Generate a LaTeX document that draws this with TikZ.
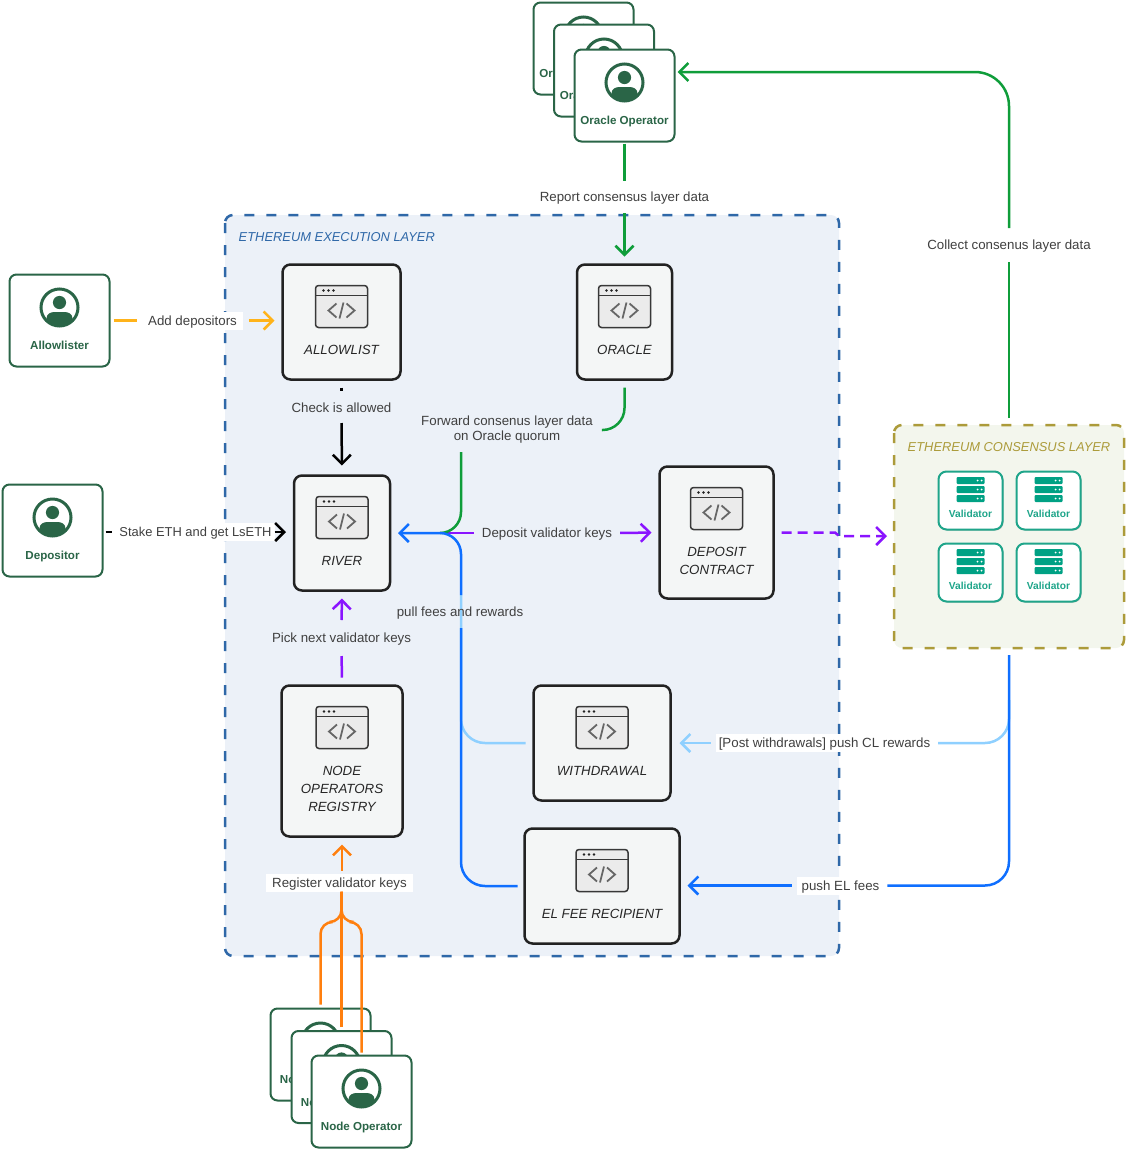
\documentclass[tikz,border=0pt]{standalone}
\usepackage{fontspec}
\setmainfont{Liberation Sans}
\usetikzlibrary{calc}
\usetikzlibrary{arrows.meta}
\usetikzlibrary{positioning}
\usetikzlibrary{shadows}
\definecolor{ExecBlue}{HTML}{2F68A8}
\definecolor{ExecFill}{HTML}{ECF1F8}
\definecolor{ConsGold}{HTML}{AC9B3A}
\definecolor{ConsFill}{HTML}{F3F6ED}
\definecolor{BoxFill}{HTML}{F4F6F6}
\definecolor{BoxLine}{HTML}{222222}
\definecolor{IconFill}{HTML}{EBEBEB}
\definecolor{OpGreen}{HTML}{2A6547}
\definecolor{ValTeal}{HTML}{1FA58A}
\definecolor{ValBar}{HTML}{00A184}
\definecolor{LabelGray}{HTML}{404040}
\definecolor{LinkYellow}{HTML}{FFB31A}
\definecolor{LinkBlue}{HTML}{0F6FFF}
\definecolor{LinkSky}{HTML}{8FD0FF}
\definecolor{LinkGreen}{HTML}{0F9D3A}
\definecolor{LinkPurple}{HTML}{8A14FF}
\definecolor{LinkOrange}{HTML}{FF7F0E}
\tikzset{
  layer/.style={rounded corners=8pt,line width=2.5pt,dash pattern=on 10pt off 12pt},
  layertitle/.style={font=\fontsize{12.9}{16}\itshape},
  contract/.style={draw=BoxLine,fill=BoxFill,line width=2.5pt,rounded corners=8pt,outer sep=0pt},
  contractname/.style={font=\fontsize{13.3}{18}\itshape,text=black!85,align=center,anchor=north,inner sep=0pt},
  operator/.style={draw=OpGreen,fill=white,line width=2pt,rounded corners=7pt,outer sep=0pt,
    minimum width=100pt,minimum height=92pt},
  opname/.style={font=\fontsize{11.6}{14}\bfseries,text=OpGreen,inner sep=0pt,text height=9pt,text depth=2pt},
  validator/.style={draw=ValTeal,fill=white,line width=2pt,rounded corners=8pt,outer sep=0pt,
    minimum width=64pt,minimum height=58pt,
    drop shadow={shadow xshift=1pt,shadow yshift=-1pt,opacity=.45,fill=black!50}},
  valname/.style={font=\fontsize{10.2}{13}\bfseries,text=ValTeal,inner sep=0pt},
  linklabel/.style={font=\fontsize{13.3}{15}\selectfont,text=LabelGray,align=center,
    fill=ExecFill,inner xsep=3pt,inner ysep=3.5pt,outer sep=0pt,text height=10pt,text depth=1pt},
  whitelabel/.style={linklabel,fill=white},
  link/.style={line width=2.5pt,rounded corners=24pt},
  tip/.style={-{Straight Barb[length=9pt,width=18pt,line width=2.5pt]}},
  codeicon/.pic={
    \draw[draw=BoxLine!90,fill=IconFill,line width=1.5pt,rounded corners=3pt] (-26,-21) rectangle (26,21);
    \draw[BoxLine!90,line width=1.3pt] (-26,-11) -- (26,-11);
    \foreach \d in {-18,-13,-8}{%
      \fill[BoxLine] (\d,-16) circle (1.3);
    }
    \draw[black!60,line width=1.8pt] (-5,-3) -- (-13,4) -- (-5,11);
    \draw[black!60,line width=1.8pt] (5,-3) -- (13,4) -- (5,11);
    \draw[black!60,line width=1.8pt] (2,-4) -- (-2,12);
  },
  personicon/.pic={
    \begin{scope}
      \clip (0,0) circle (18.5);
      \fill[OpGreen] (-13,20) -- (-13,11) .. controls (-13,6.5) and (-9,4.5) .. (-5,4.5) -- (5,4.5)
        .. controls (9,4.5) and (13,6.5) .. (13,11) -- (13,20) -- cycle;
    \end{scope}
    \draw[OpGreen,line width=3pt] (0,0) circle (18.5);
    \fill[OpGreen] (0,-5) circle (6.6);
  },
  servericon/.pic={
    \foreach \b in {-9,0,9}{%
      \fill[ValBar,rounded corners=1pt] (-14,\b-3.5) rectangle (14,\b+3.5);
      \fill[white] (7,\b) circle (1) (11,\b) circle (1);
    }
  }
}

\begin{document}
\begin{tikzpicture}[x=1pt,y=-1pt]
  \useasboundingbox (0,0) rectangle (1129,1152);

  % layers
  \draw[layer,draw=ExecBlue,fill=ExecFill] (225,215) rectangle (839,956);
  \draw[layer,draw=ConsGold,fill=ConsFill] (894,425) rectangle (1124,648);
  \node[layertitle,text=ExecBlue,anchor=west,inner sep=0pt] (execname) at (238.5,237) {ETHEREUM EXECUTION LAYER};
  \node[layertitle,text=ConsGold,inner sep=0pt] (consname) at (1009,447) {ETHEREUM CONSENSUS LAYER};
  \coordinate (consensusnorth) at (1009,425);
  \coordinate (consensussouth) at (1009,648);
  \coordinate (consensuswest) at (894,536);

  % contracts
  \foreach \nm/\x/\y/\w/\h/\txt in {%
    allowlist/341.5/322/118/115/ALLOWLIST,
    oracle/624.5/322/95/115/ORACLE,
    river/342/533/96/115/RIVER,
    deposit/716.5/532.5/114/132/{DEPOSIT\\CONTRACT},
    registry/342/761/121/151/{NODE\\OPERATORS\\REGISTRY},
    withdrawal/602/743/137/115/WITHDRAWAL,
    elfee/602/886/155/115/EL FEE RECIPIENT}{%
    \node[contract,minimum width=\w pt,minimum height=\h pt] (\nm) at (\x,\y) {};
    \pic at ($(\nm.north)+(0,42)$) {codeicon};
    \node[contractname] (\nm-name) at ($(\nm.north)+(0,80.5)$) {\txt};
  }

  % operators
  \foreach \nm/\x/\y in {allowlister/59.5/320.5,depositor/52.5/530.5}{%
    \node[operator] (\nm) at (\x,\y) {};
    \pic at ($(\nm.north)+(0,33)$) {personicon};
  }
  \node[opname] (allowlister-name) at ($(allowlister.north)+(0,71.5)$) {Allowlister};
  \node[opname] (depositor-name) at ($(depositor.north)+(0,71.5)$) {Depositor};

  \foreach \nm/\x/\y in {oracleopa/583.5/48.5,oracleopb/604/70.5,oracleopc/624.5/95.5}{%
    \node[operator] (\nm) at (\x,\y) {};
    \pic at ($(\nm.north)+(0,33)$) {personicon};
    \node[opname] (\nm-name) at ($(\nm.north)+(0,71.5)$) {Oracle Operator};
  }
  \foreach \nm/\x/\y in {nodeopa/320.5/1054.5,nodeopb/341.5/1077,nodeopc/361.5/1101.5}{%
    \node[operator] (\nm) at (\x,\y) {};
    \pic at ($(\nm.north)+(0,33)$) {personicon};
    \node[opname] (\nm-name) at ($(\nm.north)+(0,71.5)$) {Node Operator};
  }

  % validators
  \foreach \nm/\x/\y in {vala/970.5/500.5,valb/1048.5/500.5,valc/970.5/572.5,vald/1048.5/572.5}{%
    \node[validator] (\nm) at (\x,\y) {};
    \pic at ($(\nm.north)+(0,18)$) {servericon};
    \node[valname] (\nm-name) at ($(\nm.north)+(0,42.5)$) {Validator};
  }

  % labels
  \node[whitelabel,inner xsep=6pt] (addlabel) at (192.5,320.5) {Add depositors};
  \node[whitelabel,font=\fontsize{12.9}{15}\selectfont] (stakelabel) at (195.5,532) {Stake ETH and get LsETH};
  \node[whitelabel] (reportlabel) at (624.5,197) {Report consensus layer data};
  \node[whitelabel] (collectlabel) at (1009,245) {Collect consenus layer data};
  \node[linklabel,text height=,text depth=] (forwardlabel) at (507,430) {Forward consenus layer data\\on Oracle quorum};
  \node[linklabel] (checklabel) at (341.5,408) {Check is allowed};
  \node[linklabel] (depositlabel) at (547,533) {Deposit validator keys};
  \node[linklabel] (picklabel) at (341.5,638) {Pick next validator keys};
  \node[whitelabel] (postlabel) at (824.5,743) {[Post withdrawals] push CL rewards};
  \node[whitelabel,inner xsep=5pt] (pushlabel) at (840.5,885.5) {push EL fees};
  \node[whitelabel,inner xsep=6pt] (registerlabel) at (339.5,882.5) {Register validator keys};

  \coordinate (riverjoin) at (461,533);
  \coordinate (purplestart) at (440,533);
  \coordinate (forwardout) at (461,444);
  \coordinate (pullbelow) at (461,628);
  \coordinate (pullabove) at (461,595);
  \coordinate (collectin) at ([shift={(3,-23.5)}]oracleopc.east);
  \coordinate (orangejoin) at (341.5,922);
  \coordinate (skystart) at (1009,700);

  % yellow, black, purple
  \draw[link,LinkYellow,shorten <=4pt,shorten >=5pt] (allowlister.east) -- (addlabel.west);
  \draw[link,LinkYellow,tip,shorten <=6pt,shorten >=8pt] (addlabel.east) -- (allowlist.west |- addlabel.east);
  \draw[link,black,shorten <=3pt,shorten >=4pt] (depositor.east |- stakelabel.west) -- (stakelabel.west);
  \draw[link,black,tip,shorten >=8pt] (stakelabel.east) -- (river.west |- stakelabel.east);
  \draw[link,black,shorten <=8pt,shorten >=8pt] (allowlist.south) -- (checklabel.north);
  \draw[link,black,tip,shorten <=6pt,shorten >=10pt] (checklabel.south) -- (river.north);
  \draw[link,LinkPurple,shorten <=8pt,shorten >=9pt] (registry.north) -- (picklabel.south);
  \draw[link,LinkPurple,tip,shorten <=9pt,shorten >=8pt] (picklabel.north) -- (river.south);
  \draw[link,LinkPurple,shorten >=5pt] (purplestart) -- (depositlabel.west);
  \draw[link,LinkPurple,tip,shorten <=5pt,shorten >=8pt] (depositlabel.east) -- (deposit.west);
  \draw[line width=2.5pt,LinkPurple,dash pattern=on 10pt off 6pt,tip,shorten <=8pt,shorten >=7pt]
    (deposit.east) -- (835,532.5) -- (839,536) -- (consensuswest);

  % green
  \draw[link,LinkGreen,shorten <=2pt,shorten >=7pt] (oracleopc.south) -- (reportlabel.north);
  \draw[link,LinkGreen,tip,shorten <=7pt,shorten >=8pt] (reportlabel.south) -- (oracle.north);
  \draw[link,LinkGreen,shorten <=7pt,shorten >=8pt] (consensusnorth) -- (collectlabel.south);
  \draw[link,rounded corners=34pt,LinkGreen,tip,shorten <=8pt] (collectlabel.north) -- (collectlabel.north |- collectin) -- (collectin);
  \draw[link,rounded corners=22pt,LinkGreen,shorten <=8pt,shorten >=6pt] (oracle.south) -- (oracle.south |- forwardlabel.east) -- (forwardlabel.east);
  \draw[link,rounded corners=21pt,LinkGreen,shorten <=8pt] (forwardout) -- (riverjoin) -- (purplestart);

  % withdrawal, then fees on top
  \draw[link,LinkSky,shorten <=8pt] (withdrawal.west) -- (riverjoin |- withdrawal.west) -- (pullabove);
  \draw[link,LinkSky,tip,shorten <=5pt,shorten >=9pt] (postlabel.west) -- (withdrawal.east);
  \draw[link,LinkSky,shorten >=5pt] (skystart) -- (skystart |- postlabel.east) -- (postlabel.east);
  \draw[link,LinkBlue,shorten <=7pt] (elfee.west) -- (riverjoin |- elfee.west) -- (pullbelow);
  \draw[link,rounded corners=21pt,LinkBlue,tip,shorten >=8pt] (pullabove) -- (riverjoin) -- (river.east);
  \draw[link,LinkBlue,shorten <=7pt,shorten >=3pt] (consensussouth) -- (consensussouth |- pushlabel.east) -- (pushlabel.east);
  \draw[link,LinkBlue,tip,shorten <=5pt,shorten >=8pt] (pushlabel.west) -- (elfee.east |- pushlabel.west);

  % orange
  \draw[link,LinkOrange,tip,shorten <=3pt,shorten >=8pt] (registerlabel.north -| registry.south) -- (registry.south);
  \draw[link,LinkOrange,shorten <=4pt] (nodeopb.north) -- (orangejoin) -- (registerlabel.south -| orangejoin);
  \draw[link,rounded corners=12pt,LinkOrange,shorten <=4pt] (nodeopa.north) -- (nodeopa.north |- orangejoin) -- (orangejoin) -- (registerlabel.south -| orangejoin);
  \draw[link,rounded corners=12pt,LinkOrange,shorten <=3pt] (nodeopc.north) -- (nodeopc.north |- orangejoin) -- (orangejoin) -- (registerlabel.south -| orangejoin);

  \node[inner sep=0pt,font=\fontsize{13.3}{15}\selectfont,text=LabelGray] (pulllabel) at (460,613.5) {pull fees and rewards};
\end{tikzpicture}
\end{document}
